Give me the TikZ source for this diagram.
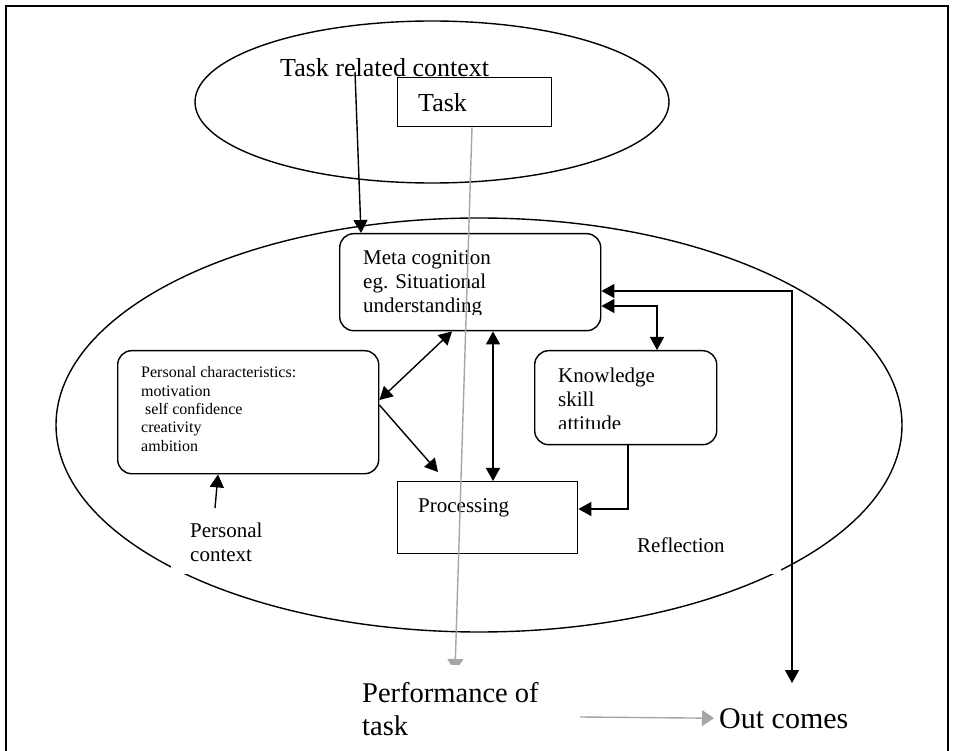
\documentclass[tikz,border=0pt]{standalone}
\usepackage{fontspec}
\setmainfont{Liberation Serif}
\usetikzlibrary{arrows.meta,shapes.geometric}
\definecolor{arrowgray}{RGB}{166,166,166}
\newcommand\fsz[1]{\fontsize{#1pt}{#1pt}\selectfont}
\begin{document}
\begin{tikzpicture}[x=1pt,y=-1pt,
  lw/.style={line width=1.4pt},
  box/.style={draw,lw,inner sep=0pt,anchor=north west},
  rbox/.style={box,rounded corners=14pt},
  oval/.style={draw,lw,ellipse,inner sep=0pt},
  txt/.style={inner sep=0pt,anchor=base west},
  conn/.style={lw,-{Triangle[length=13pt,width=14pt]}},
  dconn/.style={lw,{Triangle[length=13pt,width=14pt]}-{Triangle[length=13pt,width=14pt]}},
  gconn/.style={line width=1.4pt,draw=arrowgray,-{Triangle[length=12pt,width=16pt]}}
]
\useasboundingbox (0,0) rectangle (954,751);
\fill[white] (0,0) rectangle (954,751);
% frame
\draw[line width=1.6pt] (6,751) -- (6,6) -- (948,6) -- (948,751);

% ellipses
\node[oval,minimum width=474,minimum height=162] (tctx) at (432,102) {};
\node[oval,minimum width=846,minimum height=414] (pctx) at (479,425) {};

% white gaps cut by text boxes
\fill[white] (171,520) rectangle (265,574);
\fill[white] (630,535) rectangle (781,574);

% boxes
\node[box,minimum width=154,minimum height=49] (task) at (397,77) {};
\node[rbox,minimum width=261,minimum height=97] (meta) at (339,233) {};
\node[rbox,minimum width=261,minimum height=123] (pers) at (117,350) {};
\node[rbox,minimum width=182,minimum height=94] (know) at (534,350) {};
\node[box,minimum width=180,minimum height=72] (proc) at (397,481) {};

% texts
\node[txt,font=\fsz{26}] (trc) at (280,77) {Task related context};
\node[txt,font=\fsz{26}] (tasktxt) at (418,112) {Task};
\node[txt,font=\fsz{21}] (meta1) at (363,265) {Meta cognition};
\node[txt,font=\fsz{21}] (meta2) at (363,289) {eg. Situational};
\begin{scope}
\clip (339,233) rectangle (600,315);
\node[txt,font=\fsz{21}] (meta3) at (363,313) {understanding};
\end{scope}
\node[txt,font=\fsz{21}] (know1) at (558,383) {Knowledge};
\node[txt,font=\fsz{21}] (know2) at (558,407) {skill};
\begin{scope}
\clip (534,350) rectangle (716,429);
\node[txt,font=\fsz{21}] (know3) at (558,431) {attitude};
\end{scope}
\node[txt,font=\fsz{16}] (pers1) at (141,378) {Personal characteristics:};
\node[txt,font=\fsz{16}] (pers2) at (141,397) {motivation};
\node[txt,font=\fsz{16}] (pers3) at (145,415) {self confidence};
\node[txt,font=\fsz{16}] (pers4) at (141,433) {creativity};
\node[txt,font=\fsz{16}] (pers5) at (141,452) {ambition};
\node[txt,font=\fsz{21}] (proctxt) at (418,512) {Processing};
\node[txt,font=\fsz{21}] (pc1) at (190,537) {Personal};
\node[txt,font=\fsz{21}] (pc2) at (190,561) {context};
\node[txt,font=\fsz{21}] (refl) at (637,552) {Reflection};

% gray task line to performance
\coordinate (perfTip) at (455,671);
\draw[gconn] (472,0 |- task.south) -- (perfTip);
\fill[white] (340,665) rectangle (545,690);
\node[txt,font=\fsz{28.5}] (perf1) at (362,702) {Performance of};
\node[txt,font=\fsz{28.5}] (perf2) at (362,735) {task};
\node[txt,font=\fsz{30}] (outc) at (719,728) {Out comes};
\coordinate (gstart) at (580,717);
\draw[gconn] (gstart) -- ([xshift=-5pt]outc.west);

% black connectors
\coordinate (trcStart) at (355,72);
\draw[conn] (trcStart) -- (361,0 |- meta.north);
\coordinate (ocTip) at (792,683);
\draw[dconn] (meta.east |- 0,291) -- (792,291) -- (ocTip);
\draw[dconn] (meta.east |- 0,306) -- (657,306) -- (657,0 |- know.north);
\draw[dconn] (493,0 |- meta.south) -- (493,0 |- proc.north);
\draw[dconn] (pers.east |- 0,400) -- (452,0 |- meta.south);
\coordinate (ppTip) at (438,472);
\draw[conn] (pers.east |- 0,405) -- (ppTip);
\draw[conn] (628,0 |- know.south) -- (628,509) -- (proc.east |- 0,509);
\coordinate (pcStart) at (215,508);
\draw[conn] (pcStart) -- (218,0 |- pers.south);
\end{tikzpicture}
\end{document}
